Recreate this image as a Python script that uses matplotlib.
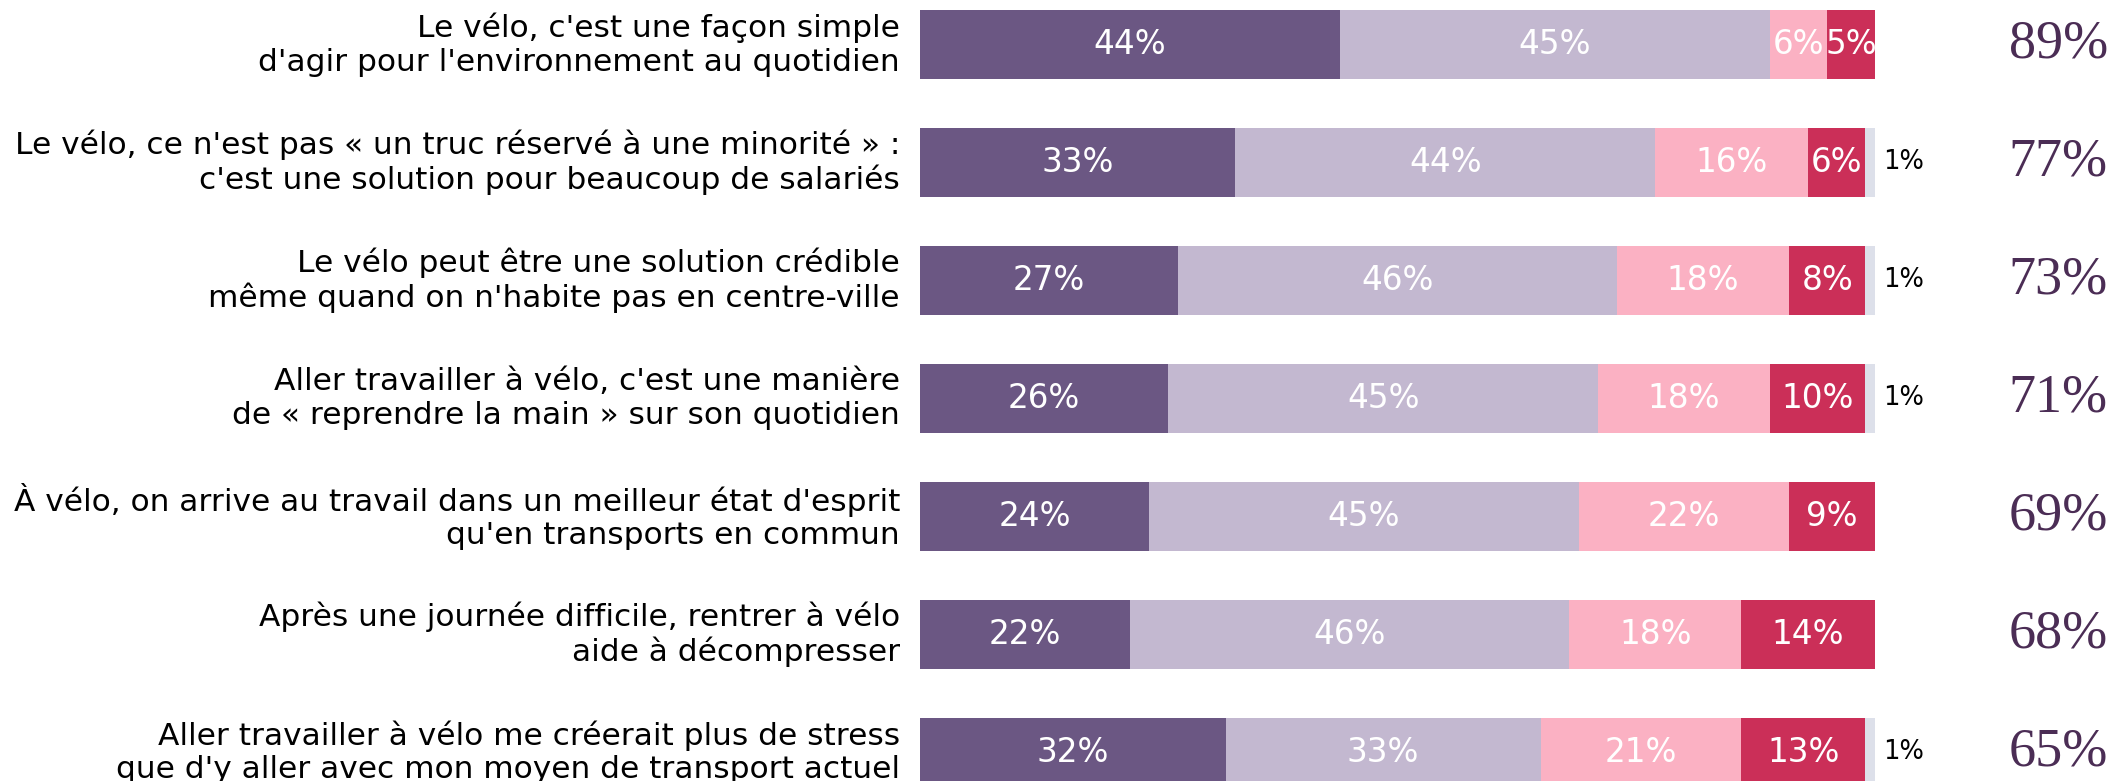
import matplotlib
matplotlib.use("Agg")
import matplotlib.pyplot as plt
import numpy as np

# statements, top to bottom
statements = [
    "Le vélo, c'est une façon simple\nd'agir pour l'environnement au quotidien",
    "Le vélo, ce n'est pas « un truc réservé à une minorité » :\nc'est une solution pour beaucoup de salariés",
    "Le vélo peut être une solution crédible\nmême quand on n'habite pas en centre-ville",
    "Aller travailler à vélo, c'est une manière\nde « reprendre la main » sur son quotidien",
    "À vélo, on arrive au travail dans un meilleur état d'esprit\nqu'en transports en commun",
    "Après une journée difficile, rentrer à vélo\naide à décompresser",
    "Aller travailler à vélo me créerait plus de stress\nque d'y aller avec mon moyen de transport actuel",
]

tout_a_fait = [44, 33, 27, 26, 24, 22, 32]
plutot_oui = [45, 44, 46, 45, 45, 46, 33]
plutot_non = [6, 16, 18, 18, 22, 18, 21]
pas_du_tout = [5, 6, 8, 10, 9, 14, 13]
nsp = [0, 1, 1, 1, 0, 0, 1]
total_accord = [89, 77, 73, 71, 69, 68, 65]

series = [tout_a_fait, plutot_oui, plutot_non, pas_du_tout, nsp]
colors = ["#6b5783", "#c3b8d0", "#fbb1c3", "#cb2f58", "#dde0ea"]

label_font = "DejaVu Sans"

fig = plt.figure(figsize=(21.28, 7.81), dpi=100)
ax = fig.add_axes([920 / 2128, 0, 955 / 2128, 1])

y = np.arange(len(statements))
left = np.zeros(len(statements))
for k, (vals, col) in enumerate(zip(series, colors)):
    vals = np.array(vals, dtype=float)
    ax.barh(y, vals, left=left, height=0.585, color=col, edgecolor="none")
    if k < 4:
        for i, v in enumerate(vals):
            if v > 0:
                ax.text(left[i] + v / 2, y[i], f"{int(v)}%", ha="center", va="center",
                        color="white", fontsize=23.5, family=label_font)
    else:
        for i, v in enumerate(vals):
            if v > 0:
                ax.text(100.8, y[i], f"{int(v)}%", ha="left", va="center",
                        color="black", fontsize=18.5, family=label_font)
    left += vals

for i, s in enumerate(statements):
    ax.text(-2.1, y[i], s, ha="right", va="center", fontsize=22.5,
            family=label_font, color="black", linespacing=1.2, clip_on=False)
    ax.text(119.2, y[i], f"{total_accord[i]}%", ha="center", va="center",
            fontsize=39, family="Liberation Serif", color="#4b2d55", clip_on=False)

ax.set_xlim(0, 100)
ax.set_ylim(6.242, -0.377)
ax.axis("off")

fig.savefig("out.png", dpi=100)
